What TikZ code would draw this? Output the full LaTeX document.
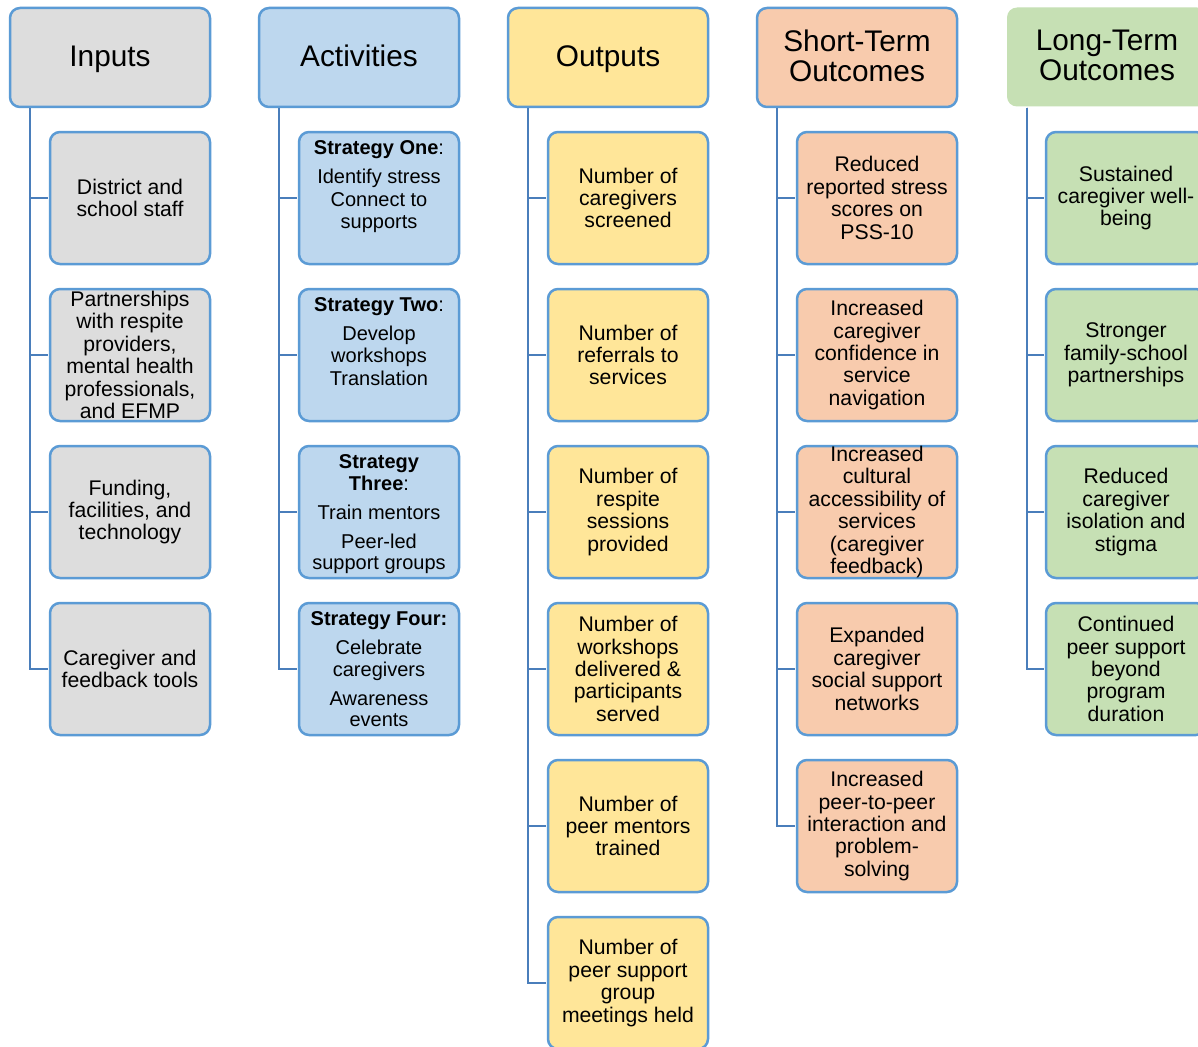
\documentclass[tikz,border=0pt]{standalone}
\usepackage{fontspec}
\setmainfont{Liberation Sans}
\definecolor{bordc}{HTML}{5B9BD5}
\definecolor{connc}{HTML}{4A7EBB}
\definecolor{grayf}{HTML}{DDDDDD}
\definecolor{bluef}{HTML}{BDD7EE}
\definecolor{yellf}{HTML}{FFE699}
\definecolor{orgf}{HTML}{F8CBAD}
\definecolor{grnf}{HTML}{C6E0B4}
\newcommand\boxtxt[1]{\parbox[c][132pt][c]{160pt}{\centering\fontsize{21.2}{22.4}\selectfont #1\par}}
\newcommand\strattxt[1]{\parbox[c][132pt][t]{160pt}{\centering\fontsize{20}{21.7}\selectfont\vspace*{9pt}#1\par}}
\newcommand\headtxt[1]{\parbox[c][99pt][c]{200pt}{\centering\fontsize{29.8}{30}\selectfont #1\par}}
\tikzset{
  hdr/.style={rounded corners=10pt, draw=bordc, line width=2.5pt, inner sep=0pt},
  chld/.style={rounded corners=10pt, draw=bordc, line width=2.5pt, inner sep=0pt},
  conn/.style={draw=connc, line width=2.6pt, shorten >=1.2pt}
}
\begin{document}
\begin{tikzpicture}[x=1pt,y=-1pt]
\useasboundingbox (0,0) rectangle (1198,1046);
\fill[white] (0,0) rectangle (1198,1046);
\clip (0,0) rectangle (1198,1046);

% headers
\node[hdr, fill=grayf] (h1) at (110,57.5) {\headtxt{\vspace*{3pt}\vphantom{Ap}Inputs}};
\node[hdr, fill=bluef] (h2) at (359,57.5) {\headtxt{\vspace*{3pt}\vphantom{Ap}Activities}};
\node[hdr, fill=yellf] (h3) at (608,57.5) {\headtxt{\vspace*{3pt}\vphantom{Ap}Outputs}};
\node[hdr, fill=orgf] (h4) at (857,57.5) {\headtxt{Short-Term\\Outcomes\vspace*{3.5pt}}};
\node[hdr, fill=grnf, draw=none] (h5) at (1107,57) {\headtxt{Long-Term\\Outcomes\vspace*{3.5pt}}};

% Inputs
\node[chld, fill=grayf] (i1) at (130,198) {\boxtxt{District and\\school staff}};
\node[chld, fill=grayf] (i2) at (130,355) {\boxtxt{Partnerships\\with respite\\providers,\\mental health\\professionals,\\and EFMP}};
\node[chld, fill=grayf] (i3) at (130,512) {\boxtxt{Funding,\\facilities, and\\technology}};
\node[chld, fill=grayf] (i4) at (130,669) {\boxtxt{Caregiver and\\feedback tools}};

% Activities
\node[chld, fill=bluef] (a1) at (379,198) {\strattxt{\textbf{Strategy One}:\\[7pt]Identify stress\\[1.5pt]Connect to\\supports}};
\node[chld, fill=bluef] (a2) at (379,355) {\strattxt{\textbf{Strategy Two}:\\[7pt]Develop\\workshops\\[1pt]Translation}};
\node[chld, fill=bluef] (a3) at (379,512) {\strattxt{\textbf{Strategy}\\\textbf{Three}:\\[7pt]Train mentors\\[7pt]Peer-led\\support groups}};
\node[chld, fill=bluef] (a4) at (379,669) {\strattxt{\textbf{Strategy Four:}\\[7pt]Celebrate\\caregivers\\[7pt]Awareness\\events}};

% Outputs
\node[chld, fill=yellf] (o1) at (628,198) {\boxtxt{Number of\\caregivers\\screened}};
\node[chld, fill=yellf] (o2) at (628,355) {\boxtxt{Number of\\referrals to\\services}};
\node[chld, fill=yellf] (o3) at (628,512) {\boxtxt{Number of\\respite\\sessions\\provided}};
\node[chld, fill=yellf] (o4) at (628,669) {\boxtxt{Number of\\workshops\\delivered \&\\participants\\served}};
\node[chld, fill=yellf] (o5) at (628,826) {\boxtxt{Number of\\peer mentors\\trained}};
\node[chld, fill=yellf] (o6) at (628,983) {\boxtxt{Number of\\peer support\\group\\meetings held}};

% Short-term
\node[chld, fill=orgf] (s1) at (877,198) {\boxtxt{Reduced\\reported stress\\scores on\\PSS-10}};
\node[chld, fill=orgf] (s2) at (877,355) {\boxtxt{Increased\\caregiver\\confidence in\\service\\navigation}};
\node[chld, fill=orgf] (s3) at (877,512) {\boxtxt{Increased\\cultural\\accessibility of\\services\\(caregiver\\feedback)}};
\node[chld, fill=orgf] (s4) at (877,669) {\boxtxt{Expanded\\caregiver\\social support\\networks}};
\node[chld, fill=orgf] (s5) at (877,826) {\boxtxt{Increased\\peer-to-peer\\interaction and\\problem-\\solving}};

% Long-term
\node[chld, fill=grnf] (l1) at (1126,198) {\boxtxt{Sustained\\caregiver well-\\being}};
\node[chld, fill=grnf] (l2) at (1126,355) {\boxtxt{Stronger\\family-school\\partnerships}};
\node[chld, fill=grnf] (l3) at (1126,512) {\boxtxt{Reduced\\caregiver\\isolation and\\stigma}};
\node[chld, fill=grnf] (l4) at (1126,669) {\boxtxt{Continued\\peer support\\beyond\\program\\duration}};

% connectors
\foreach \c in {i1,i2,i3,i4} \draw[conn] ([xshift=21.25pt]h1.south west) |- (\c.west);
\foreach \c in {a1,a2,a3,a4} \draw[conn] ([xshift=21.25pt]h2.south west) |- (\c.west);
\foreach \c in {o1,o2,o3,o4,o5,o6} \draw[conn] ([xshift=21.25pt]h3.south west) |- (\c.west);
\foreach \c in {s1,s2,s3,s4,s5} \draw[conn] ([xshift=21.25pt]h4.south west) |- (\c.west);
\foreach \c in {l1,l2,l3,l4} \draw[conn] ([xshift=21.25pt]h5.south west) |- (\c.west);
\end{tikzpicture}
\end{document}
